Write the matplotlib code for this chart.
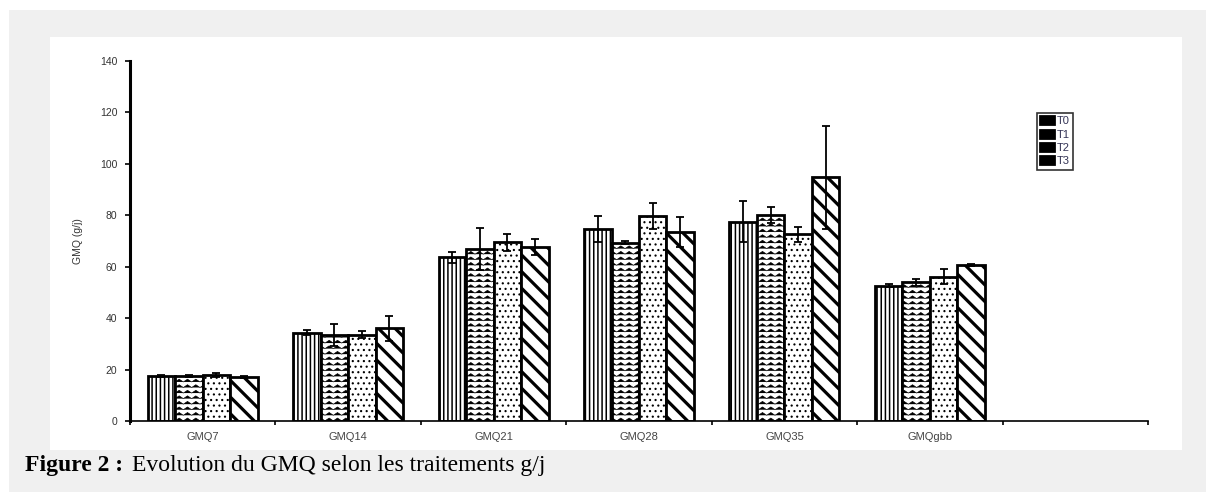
import warnings
warnings.filterwarnings("ignore")
import matplotlib
matplotlib.use("Agg")
import matplotlib.pyplot as plt
import matplotlib.hatch as mhatch
from matplotlib.path import Path
from matplotlib.patches import Rectangle
import numpy as np

categories = ["GMQ7", "GMQ14", "GMQ21", "GMQ28", "GMQ35", "GMQgbb"]
series = ["T0", "T1", "T2", "T3"]
T0 = [17.5, 34.4, 63.7, 74.6, 77.5, 52.6]
T1 = [17.5, 33.6, 66.9, 69.4, 80.1, 53.9]
T2 = [17.8, 33.6, 69.5, 79.7, 72.6, 56.1]
T3 = [17.2, 36.0, 67.7, 73.5, 94.8, 60.7]
T0_err = [0.3, 1.0, 2.2, 5.0, 8.0, 0.6]
T1_err = [0.3, 4.3, 8.0, 0.5, 3.0, 1.3]
T2_err = [0.8, 1.3, 3.2, 5.0, 3.0, 3.0]
T3_err = [0.4, 5.0, 3.0, 6.0, 20.0, 0.5]
yticks = [0, 20, 40, 60, 80, 100, 120, 140]


# custom zigzag (herringbone-like) hatch, triggered by the letter 'z'
class ZigZagHatch(mhatch.HatchPatternBase):
    teeth = 12

    def __init__(self, hatch, density):
        self.num_rows = int(hatch.count('z') * density)
        self.pts = 2 * self.teeth + 1
        self.num_vertices = self.num_rows * self.pts

    def set_vertices_and_codes(self, vertices, codes):
        if self.num_rows == 0:
            return
        ys = (np.arange(self.num_rows) + 0.5) / self.num_rows
        amp = 0.25 / self.num_rows
        xs = np.linspace(0, 1, self.pts)
        off = np.where(np.arange(self.pts) % 2 == 0, -amp, amp)
        k = 0
        for y in ys:
            vertices[k:k + self.pts, 0] = xs
            vertices[k:k + self.pts, 1] = y + off
            codes[k] = Path.MOVETO
            codes[k + 1:k + self.pts] = Path.LINETO
            k += self.pts


mhatch._hatch_types.append(ZigZagHatch)

values = [T0, T1, T2, T3]
errors = [T0_err, T1_err, T2_err, T3_err]
hatches = ["||||", "zzz", "...", "\\\\"]
hatch_lw = [1.1, 0.45, 0.8, 2.3]

W, H = 1206, 492
fig = plt.figure(figsize=(W / 100, H / 100), dpi=100)
fig.patch.set_facecolor("#f0f0f0")
fig.patches.append(Rectangle((0, 1 - 10 / H), 1, 10 / H, transform=fig.transFigure,
                             facecolor="white", edgecolor="none", zorder=-3))
fig.patches.append(Rectangle((0, 0), 9 / W, 1, transform=fig.transFigure,
                             facecolor="white", edgecolor="none", zorder=-3))
fig.patches.append(Rectangle((50 / W, 1 - 450 / H), (1182 - 50) / W, (450 - 37) / H,
                             transform=fig.transFigure, facecolor="white",
                             edgecolor="none", zorder=-2))

ax = fig.add_axes([130 / W, 1 - 421 / H, (1148 - 130) / W, (421 - 61) / H])
ax.set_facecolor("none")

n_slots = 7
x = np.arange(len(categories)) + 0.5
bw = 0.189
for i, (vals, errs) in enumerate(zip(values, errors)):
    plt.rcParams["hatch.linewidth"] = hatch_lw[i]
    pos = x + (i - 1.5) * bw
    bars = ax.bar(pos, vals, width=bw, facecolor="white", edgecolor="black",
                  linewidth=2.0, hatch=hatches[i], label=series[i], zorder=2)
    for b in bars:
        try:
            b.set_hatch_linewidth(hatch_lw[i])
        except AttributeError:
            pass
    ax.errorbar(pos, vals, yerr=errs, fmt="none", ecolor="black",
                elinewidth=1.3, capsize=2.8, capthick=1.3, zorder=3)

ax.set_xlim(0, n_slots)
ax.set_ylim(0, 140)
ax.set_yticks(yticks)
ax.set_yticklabels([str(v) for v in yticks], fontsize=7.5, color="#333333",
                   family="Liberation Sans")
ax.set_xticks(np.arange(n_slots + 1))
ax.set_xticklabels([])
ax.set_xticks(x, minor=True)
ax.set_xticklabels(categories, minor=True, fontsize=8, color="#444444",
                   family="Liberation Sans")
ax.tick_params(axis="x", which="minor", length=0, pad=8)
ax.tick_params(axis="x", which="major", length=3, width=1.2, direction="out")
ax.tick_params(axis="y", length=3.6, width=1.2, direction="out", pad=5.5)
for s in ["top", "right"]:
    ax.spines[s].set_visible(False)
ax.spines["left"].set_linewidth(2.2)
ax.spines["bottom"].set_linewidth(1.2)

ax.set_ylabel("GMQ (g/j)", fontsize=7.5, family="Liberation Sans", color="#333333",
              labelpad=12)

leg = ax.legend(loc="upper left", bbox_to_anchor=(0.891, 0.856),
                prop={"family": "Liberation Sans", "size": 8},
                handlelength=1.2, handleheight=0.7, handletextpad=0.3,
                labelspacing=0.3, borderpad=0.3, borderaxespad=0,
                frameon=True, fancybox=False, edgecolor="black")
leg.get_frame().set_linewidth(1.2)
for h in leg.legend_handles:
    h.set_facecolor("black")
for t in leg.get_texts():
    t.set_color("#333355")

fig.text(25 / W, 1 - 471.5 / H, "Figure 2 :", fontsize=17, fontweight="bold",
         family="Liberation Serif", va="baseline", ha="left")
fig.text(132 / W, 1 - 471.5 / H, "Evolution du GMQ selon les traitements g/j",
         fontsize=17, family="Liberation Serif", va="baseline", ha="left")

fig.savefig("out.png", dpi=100, facecolor=fig.get_facecolor())
